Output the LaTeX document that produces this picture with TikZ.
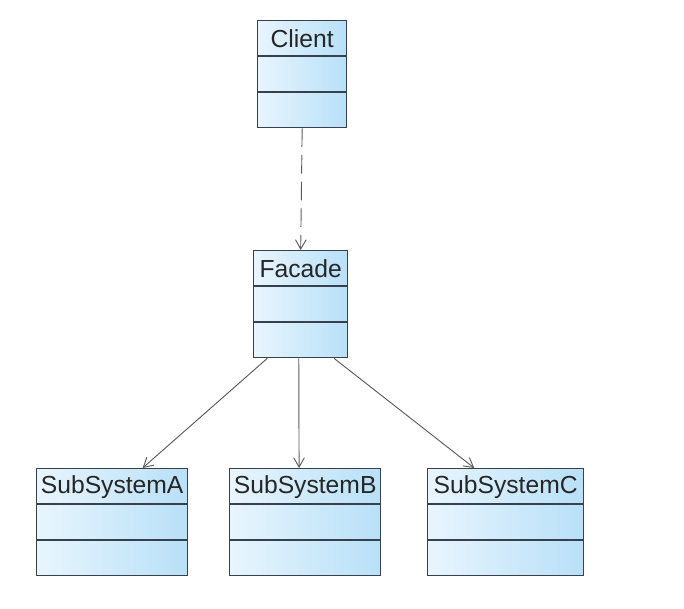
\documentclass[tikz,border=0pt]{standalone}
\usepackage{fontspec}
\setmainfont{Liberation Sans}
\usetikzlibrary{arrows.meta,calc}

\definecolor{boxleft}{RGB}{232,245,253}
\definecolor{boxright}{RGB}{184,224,248}
\definecolor{boxline}{RGB}{55,65,75}
\definecolor{linkline}{RGB}{90,90,90}

\tikzset{
  classbox/.style={draw=boxline, line width=1pt, left color=boxleft, right color=boxright,
    inner sep=0pt, anchor=north west},
  classname/.style={font=\fontsize{18.5}{21}\selectfont, text=black!85, inner sep=0pt},
  link/.style={draw=linkline, line width=0.7pt, -{Straight Barb[length=7pt,width=8pt]}},
}

% one class: name, left x, top y, width, title
\newcommand{\umlclass}[5]{
  \node[classbox, minimum width=#4*0.75pt, minimum height=107*0.75pt] (#1) at (#2,#3) {};
  \draw[boxline, line width=1pt] ($(#1.north west)+(0,36)$) -- ($(#1.north east)+(0,36)$);
  \draw[boxline, line width=1pt] ($(#1.north west)+(0,72)$) -- ($(#1.north east)+(0,72)$);
  \node[classname] (#1-name) at ($(#1.north)+(0,19)$) {#5};
}

\begin{document}
\begin{tikzpicture}[x=0.75pt, y=-0.75pt]
\useasboundingbox (0,0) rectangle (684,609);

% Draw the classes
\umlclass{client}{257}{20}{89}{Client}
\umlclass{facade}{253}{250}{94}{Facade}
\umlclass{subA}{36}{468}{151}{SubSystemA}
\umlclass{subB}{229}{468}{151}{SubSystemB}
\umlclass{subC}{427}{468}{156}{SubSystemC}

% Draw the dependency
\draw[link, dash pattern=on 14pt off 6pt] (client.south) -- (facade.north);

% Draw the associations
\draw[link] ($(facade.south west)!0.15!(facade.south east)$) -- ($(subA.north west)!0.7!(subA.north east)$);
\draw[link] ($(facade.south west)!0.48!(facade.south east)$) -- ($(subB.north west)!0.46!(subB.north east)$);
\draw[link] ($(facade.south west)!0.85!(facade.south east)$) -- ($(subC.north west)!0.3!(subC.north east)$);
\end{tikzpicture}
\end{document}
